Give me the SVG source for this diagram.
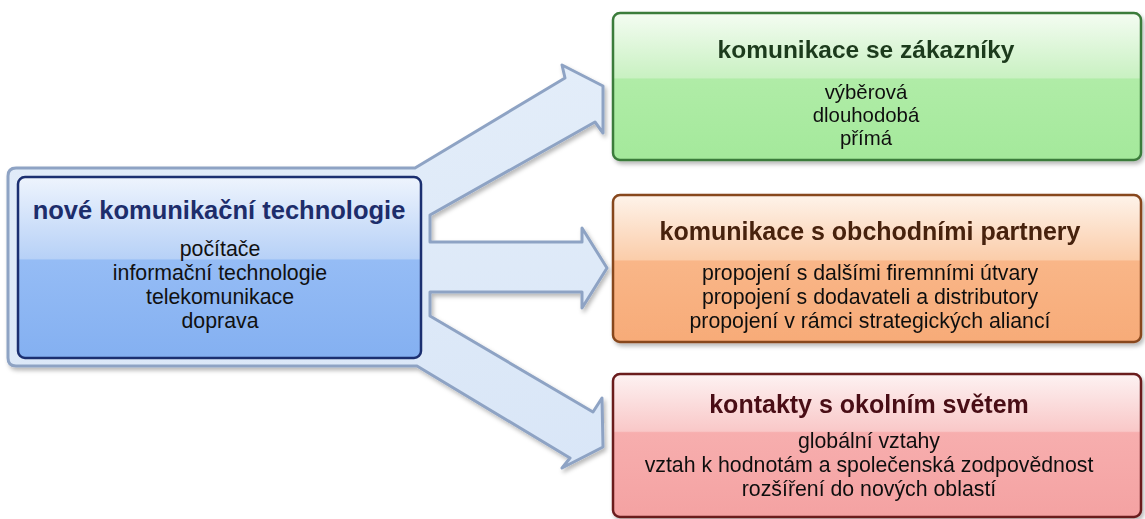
<svg xmlns="http://www.w3.org/2000/svg" width="1145" height="519" viewBox="0 0 1145 519">
  <defs>
    <linearGradient id="gBlue" x1="0" y1="0" x2="0" y2="1">
      <stop offset="0" stop-color="#eef4fd"/>
      <stop offset="0.45" stop-color="#b7d1f7"/>
      <stop offset="0.46" stop-color="#95bcf5"/>
      <stop offset="1" stop-color="#84b0f1"/>
    </linearGradient>
    <linearGradient id="gGreen" x1="0" y1="0" x2="0" y2="1">
      <stop offset="0" stop-color="#f4fcf2"/>
      <stop offset="0.44" stop-color="#c9f1c2"/>
      <stop offset="0.45" stop-color="#b0eca7"/>
      <stop offset="1" stop-color="#a4e99b"/>
    </linearGradient>
    <linearGradient id="gOrange" x1="0" y1="0" x2="0" y2="1">
      <stop offset="0" stop-color="#fef3ea"/>
      <stop offset="0.44" stop-color="#fbcdaa"/>
      <stop offset="0.45" stop-color="#f9b688"/>
      <stop offset="1" stop-color="#f7ab78"/>
    </linearGradient>
    <linearGradient id="gRed" x1="0" y1="0" x2="0" y2="1">
      <stop offset="0" stop-color="#fdf2f2"/>
      <stop offset="0.4" stop-color="#f9c8c8"/>
      <stop offset="0.41" stop-color="#f7aeae"/>
      <stop offset="1" stop-color="#f4a2a2"/>
    </linearGradient>
    <linearGradient id="gArrow" x1="0" y1="0" x2="0" y2="1">
      <stop offset="0" stop-color="#e3edf9"/>
      <stop offset="1" stop-color="#d9e6f7"/>
    </linearGradient>
    <filter id="sh" x="-5%" y="-5%" width="112%" height="120%">
      <feDropShadow dx="2" dy="3" stdDeviation="2" flood-color="#000" flood-opacity="0.28"/>
    </filter>
  </defs>
  <style>
    text { font-family: "Liberation Sans", Arial, sans-serif; text-anchor: middle; }
    .t { font-weight: bold; }
    .b { fill: #111; font-size: 21.3px; }
    .bg { fill: #111; font-size: 20.4px; }
    .box { stroke-width: 2.5; }
  </style>

  <g id="connectors">
    <path d="M 16,168 L 415,168 L 565,78 L 562,65 L 603,86 L 603,133 L 595,122 L 430,215 L 430,242 L 582,242 L 582,228 L 607,268 L 582,308 L 582,292 L 430,292 L 430,316 L 593,412 L 602,398 L 603,447 L 562,468 L 570,458 L 417,366 L 16,366 Q 8,366 8,358 L 8,176 Q 8,168 16,168 Z" fill="url(#gArrow)" stroke="#8ea3c4" stroke-width="3" stroke-linejoin="round" filter="url(#sh)"/>
  </g>

  <g id="node-tech">
    <rect class="box" x="18" y="177" width="403" height="181" rx="7" fill="url(#gBlue)" stroke="#1b2f70"/>
    <text class="t" x="219" y="219" font-size="25.5" fill="#1d2d6b">nové komunikační technologie</text>
    <text class="b" x="220" y="256">počítače</text>
    <text class="b" x="220" y="280">informační technologie</text>
    <text class="b" x="220" y="304">telekomunikace</text>
    <text class="b" x="220" y="328">doprava</text>
  </g>

  <g id="node-zakaznici" filter="url(#sh)">
    <rect class="box" x="613" y="13" width="528" height="147" rx="7" fill="url(#gGreen)" stroke="#3b7b3b"/>
    <text class="t" x="866" y="58" font-size="24.5" fill="#1d3a1d">komunikace se zákazníky</text>
    <text class="bg" x="866" y="99">výběrová</text>
    <text class="bg" x="866" y="122">dlouhodobá</text>
    <text class="bg" x="866" y="145">přímá</text>
  </g>

  <g id="node-partneri" filter="url(#sh)">
    <rect class="box" x="613" y="195" width="528" height="147" rx="7" fill="url(#gOrange)" stroke="#87461c"/>
    <text class="t" x="870" y="240" font-size="25" fill="#46210d">komunikace s obchodními partnery</text>
    <text class="b" x="870" y="280">propojení s dalšími firemními útvary</text>
    <text class="b" x="870" y="304">propojení s dodavateli a distributory</text>
    <text class="b" x="870" y="328">propojení v rámci strategických aliancí</text>
  </g>

  <g id="node-svet" filter="url(#sh)">
    <rect class="box" x="613" y="374" width="528" height="143" rx="7" fill="url(#gRed)" stroke="#6a1a1e"/>
    <text class="t" x="869" y="413" font-size="25" fill="#480d13">kontakty s okolním světem</text>
    <text class="b" x="869" y="448">globální vztahy</text>
    <text class="b" x="869" y="472">vztah k hodnotám a společenská zodpovědnost</text>
    <text class="b" x="869" y="496">rozšíření do nových oblastí</text>
  </g>
</svg>
